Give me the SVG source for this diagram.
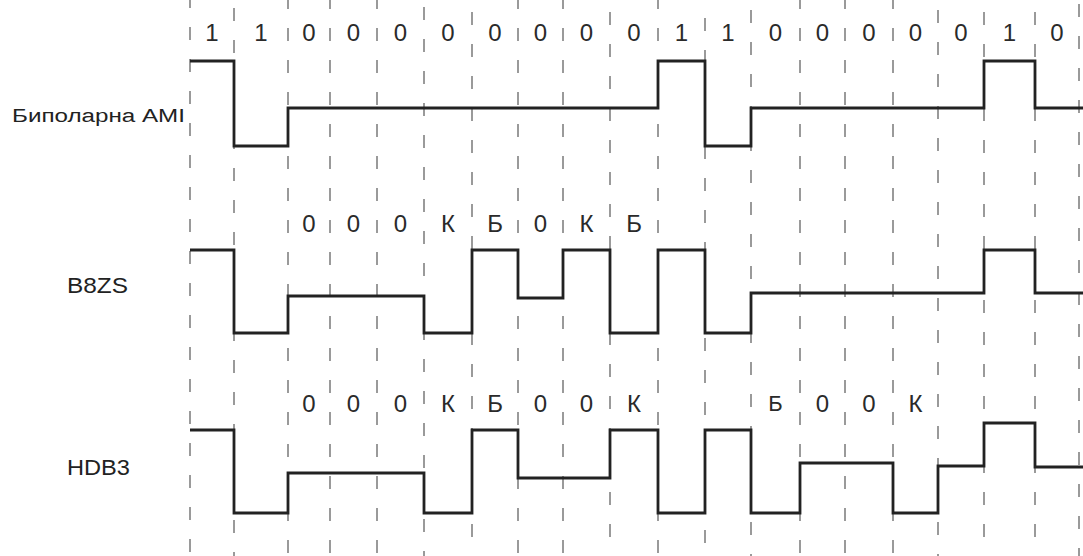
<svg xmlns="http://www.w3.org/2000/svg" width="1083" height="556" viewBox="0 0 1083 556">
<style>
.grid line{stroke:#9a9a9a;stroke-width:2;stroke-dasharray:13 19}
.wave{fill:none;stroke:#222;stroke-width:2.8;stroke-linejoin:miter}
.bit{font-family:"Liberation Sans",Arial,sans-serif;font-size:24px;fill:#2a2a2a;text-anchor:middle}
.name{font-family:"Liberation Sans",Arial,sans-serif;fill:#222}
</style>
<rect width="1083" height="556" fill="#fff"/>
<g id="grid" class="grid">
<line x1="190" y1="0" x2="190" y2="556" stroke-dashoffset="-27"/>
<line x1="234" y1="0" x2="234" y2="556" stroke-dashoffset="-8"/>
<line x1="288" y1="0" x2="288" y2="556" stroke-dashoffset="-28"/>
<line x1="330" y1="0" x2="330" y2="556" stroke-dashoffset="-28"/>
<line x1="377" y1="0" x2="377" y2="556" stroke-dashoffset="-28"/>
<line x1="424" y1="0" x2="424" y2="556" stroke-dashoffset="-7"/>
<line x1="472" y1="0" x2="472" y2="556" stroke-dashoffset="-12"/>
<line x1="518" y1="0" x2="518" y2="556" stroke-dashoffset="-28"/>
<line x1="563" y1="0" x2="563" y2="556" stroke-dashoffset="-28"/>
<line x1="610" y1="0" x2="610" y2="556" stroke-dashoffset="-12"/>
<line x1="658" y1="0" x2="658" y2="556" stroke-dashoffset="-28"/>
<line x1="705" y1="0" x2="705" y2="556" stroke-dashoffset="-18"/>
<line x1="751" y1="0" x2="751" y2="556" stroke-dashoffset="-10"/>
<line x1="800" y1="0" x2="800" y2="556" stroke-dashoffset="-28"/>
<line x1="845" y1="0" x2="845" y2="556" stroke-dashoffset="-28"/>
<line x1="893" y1="0" x2="893" y2="556" stroke-dashoffset="-28"/>
<line x1="938" y1="0" x2="938" y2="556" stroke-dashoffset="-10"/>
<line x1="984" y1="0" x2="984" y2="556" stroke-dashoffset="-12"/>
<line x1="1035" y1="0" x2="1035" y2="556" stroke-dashoffset="-12"/>
<line x1="1079" y1="0" x2="1079" y2="556" stroke-dashoffset="-4"/>
</g>
<g id="bits-top" class="bit">
<text x="212" y="41">1</text><text x="261" y="41">1</text><text x="309" y="41">0</text><text x="353.5" y="41">0</text><text x="400.5" y="41">0</text><text x="448" y="41">0</text><text x="495" y="41">0</text><text x="540.5" y="41">0</text><text x="586.5" y="41">0</text><text x="634" y="41">0</text><text x="681.5" y="41">1</text><text x="728" y="41">1</text><text x="775.5" y="41">0</text><text x="822.5" y="41">0</text><text x="869" y="41">0</text><text x="915.5" y="41">0</text><text x="961" y="41">0</text><text x="1009.5" y="41">1</text><text x="1057" y="41">0</text>
</g>
<g id="ami">
<text class="name" x="12" y="122" font-size="18" textLength="173" lengthAdjust="spacingAndGlyphs">Биполарна AMI</text>
<path class="wave" d="M190,61 H234 V146 H288 V108 H658 V61 H705 V146 H751 V108 H984 V61 H1035 V108 H1083"/>
</g>
<g id="b8zs">
<text class="name" x="67" y="293" font-size="22" textLength="61" lengthAdjust="spacingAndGlyphs">B8ZS</text>
<g class="bit"><text x="309" y="232">0</text><text x="353.5" y="232">0</text><text x="400.5" y="232">0</text><text x="448" y="232">К</text><text x="495" y="232">Б</text><text x="540.5" y="232">0</text><text x="586.5" y="232">К</text><text x="634" y="232">Б</text></g>
<path class="wave" d="M190,250 H234 V333 H288 V296 H424 V333 H472 V250 H518 V298 H563 V250 H610 V333 H658 V250 H705 V333 H751 V293 H984 V250 H1035 V293 H1083"/>
</g>
<g id="hdb3">
<text class="name" x="67" y="475" font-size="22" textLength="63" lengthAdjust="spacingAndGlyphs">HDB3</text>
<g class="bit"><text x="309" y="412">0</text><text x="353.5" y="412">0</text><text x="400.5" y="412">0</text><text x="448" y="412">К</text><text x="495" y="412">Б</text><text x="540.5" y="412">0</text><text x="586.5" y="412">0</text><text x="634" y="412">К</text><text x="775.5" y="411" font-size="22">Б</text><text x="822.5" y="412">0</text><text x="869" y="412">0</text><text x="915.5" y="412">К</text></g>
<path class="wave" d="M190,430 H234 V513 H288 V473 H424 V513 H472 V430 H518 V478 H610 V430 H658 V513 H705 V430 H751 V513 H800 V463 H893 V513 H938 V466 H984 V423 H1035 V467 H1083"/>
</g>
</svg>
